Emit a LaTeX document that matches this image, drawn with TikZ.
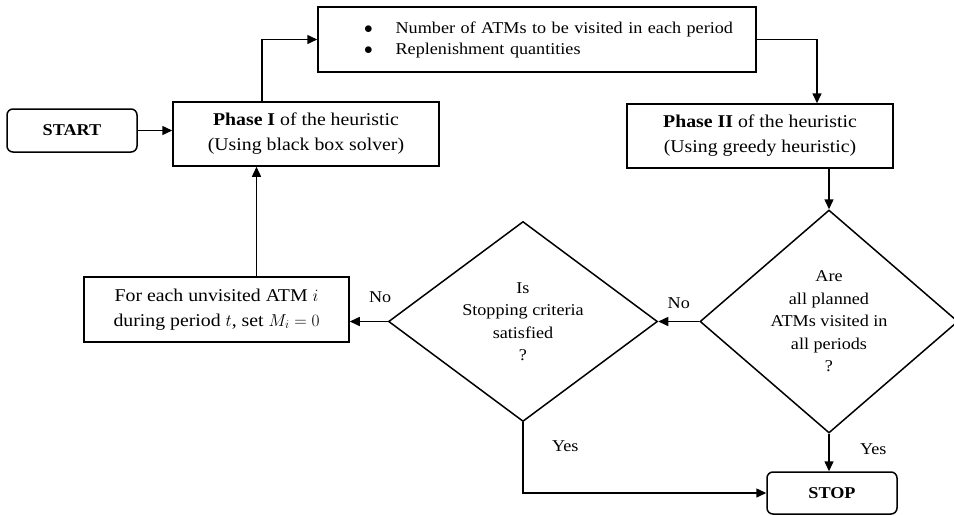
\documentclass[tikz,border=0pt]{standalone}
\usepackage{fontspec}
\setmainfont[FakeStretch=1.1]{Liberation Serif}
\usetikzlibrary{arrows.meta, shapes.geometric}

\tikzset{
  procbox/.style={draw, line width=1.5pt, align=center, inner sep=0pt},
  termbox/.style={draw, line width=1.5pt, rounded corners=6pt, inner sep=0pt,
    font=\fontsize{16.5}{20}\selectfont\bfseries},
  decision/.style={draw, diamond, line width=1.5pt, align=center, inner sep=0pt,
    font=\fontsize{16.5}{22.5}\selectfont},
  flow/.style={-{Triangle[length=10pt, width=9pt]}, line width=1.5pt},
  answer/.style={font=\fontsize{16.5}{20}\selectfont}
}
\newcommand{\listdot}{$\bullet$}

\begin{document}
\begin{tikzpicture}[x=1pt, y=-1pt, font=\fontsize{18}{25}\selectfont]
  \useasboundingbox (0,0) rectangle (954,515);

  \node[termbox, minimum width=130pt, minimum height=43pt] (start) at (72,130.5) {START};
  \node[procbox, minimum width=266pt, minimum height=64pt] (phase1) at (306,134)
    {\textbf{Phase I} of the heuristic\\(Using black box solver)};
  \node[procbox, text width=438pt, minimum height=65pt, align=left,
        font=\fontsize{16.5}{21}\selectfont] (output) at (537,39.5)
    {\hspace*{46pt}\listdot\hspace{23pt}Number of ATMs to be visited in each period\\
     \hspace*{46pt}\listdot\hspace{23pt}Replenishment quantities};
  \node[procbox, minimum width=266pt, minimum height=64pt] (phase2) at (760,136)
    {\textbf{Phase II} of the heuristic\\(Using greedy heuristic)};
  \node[decision, minimum width=258pt, minimum height=223pt] (check) at (829,321.5)
    {Are\\all planned\\ATMs visited in\\all periods\\?};
  \node[decision, minimum width=269pt, minimum height=187pt] (stopq) at (523,321.5)
    {Is\\Stopping criteria\\satisfied\\?};
  \node[procbox, minimum width=265pt, minimum height=65pt] (reset) at (216.5,309.5)
    {For each unvisited ATM $i$\\during period $t$, set $M_i=0$};
  \node[termbox, minimum width=130pt, minimum height=42pt] (stop) at (832,493) {STOP};

  % connectors
  \draw[flow] (start.east) -- (start.east -| phase1.west);
  \draw[flow] ([xshift=-44pt]phase1.north) |- (output.west);
  \draw[flow] (output.east) -| ([xshift=57pt]phase2.north);
  \draw[flow] (check.north |- phase2.south) -- (check.north);
  \draw[flow] (check.west) -- node[answer, above=9pt] {No} (stopq.east);
  \draw[flow] (stopq.west) -- node[answer, pos=0.2, above=15pt] {No} (stopq.west -| reset.east);
  \draw[flow] ([xshift=40pt]reset.north) -- ([xshift=40pt]reset.north |- phase1.south);
  \draw[flow] (stopq.south) |- node[answer, pos=0.17, right=25pt] {Yes} (stop.west);
  \draw[flow] (check.south) -- node[answer, pos=0.4, right=27pt] {Yes} (check.south |- stop.north);
\end{tikzpicture}
\end{document}
